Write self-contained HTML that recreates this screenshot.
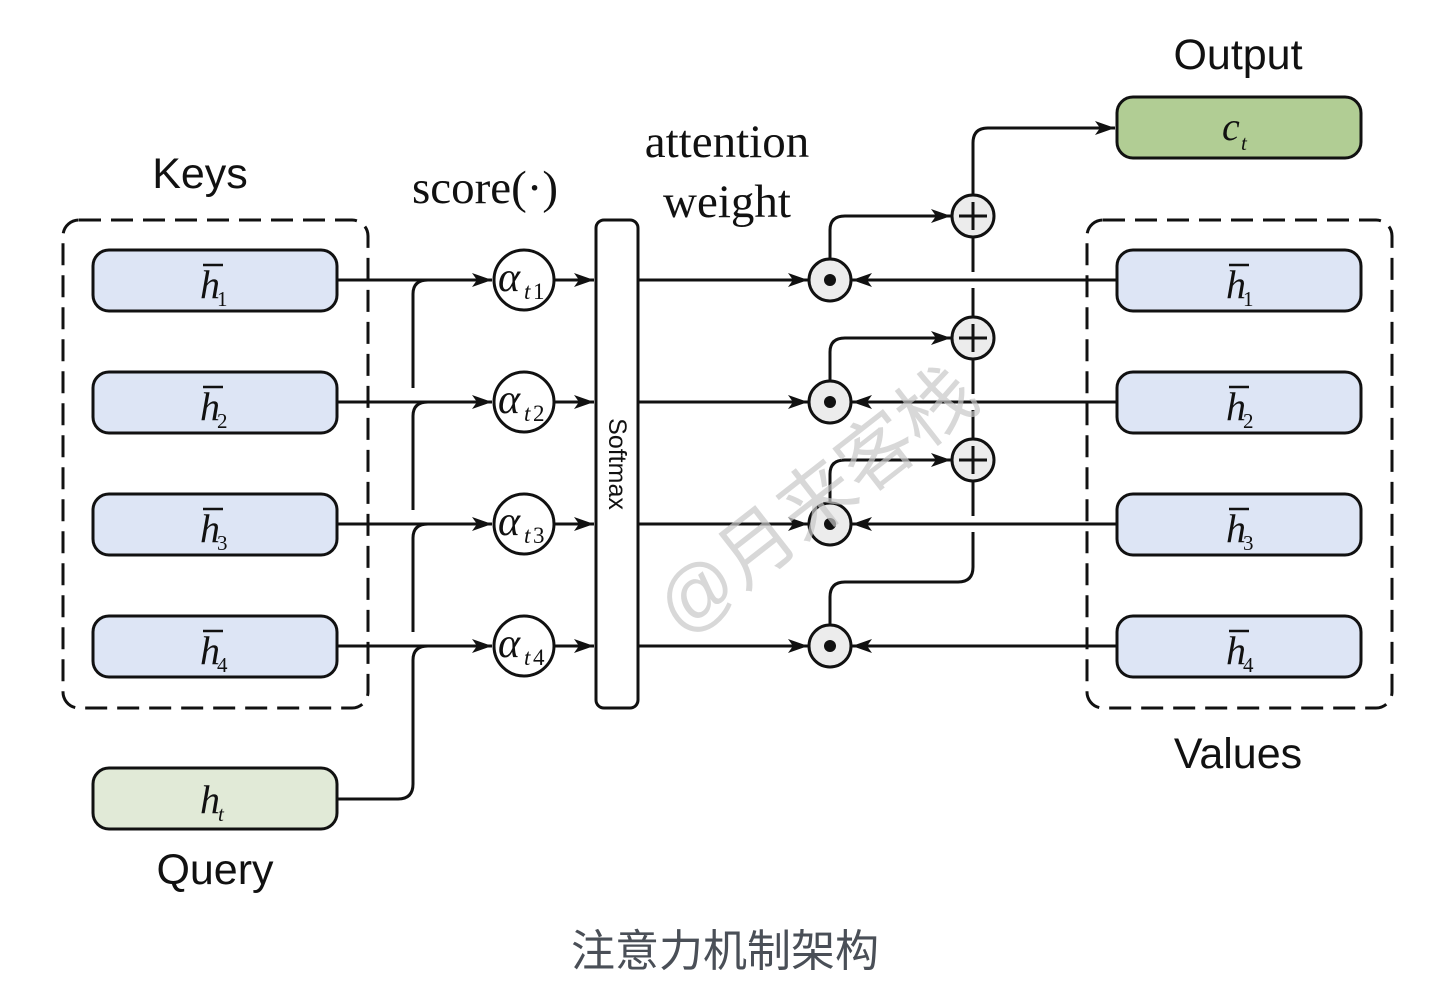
<!DOCTYPE html>
<html><head><meta charset="utf-8"><style>
html,body{margin:0;padding:0;background:#fff;}
svg{display:block;}
.s{font-family:"Liberation Sans",sans-serif;}
.r{font-family:"Liberation Serif",serif;}
</style></head><body>
<svg width="1436" height="1006" viewBox="0 0 1436 1006" xmlns="http://www.w3.org/2000/svg">
<defs>
<marker id="ar" viewBox="0 0 20 14" refX="20" refY="7" markerWidth="20" markerHeight="14" orient="auto" markerUnits="userSpaceOnUse">
<path d="M0,0 L20,7 L0,14 L5,7 Z" fill="#111"/>
</marker>
</defs>
<rect width="1436" height="1006" fill="#fff"/>
<g fill="none" stroke="#111" stroke-width="3">
<rect x="63" y="220" width="305" height="488" rx="16" stroke-dasharray="22,10"/>
<rect x="1087" y="220" width="305" height="488" rx="16" stroke-dasharray="22,10"/>
</g>
<g stroke="#111" stroke-width="3">
<rect x="93" y="250" width="244" height="61" rx="16" fill="#dde5f5"/>
<rect x="93" y="372" width="244" height="61" rx="16" fill="#dde5f5"/>
<rect x="93" y="494" width="244" height="61" rx="16" fill="#dde5f5"/>
<rect x="93" y="616" width="244" height="61" rx="16" fill="#dde5f5"/>
<rect x="1117" y="250" width="244" height="61" rx="16" fill="#dde5f5"/>
<rect x="1117" y="372" width="244" height="61" rx="16" fill="#dde5f5"/>
<rect x="1117" y="494" width="244" height="61" rx="16" fill="#dde5f5"/>
<rect x="1117" y="616" width="244" height="61" rx="16" fill="#dde5f5"/>
<rect x="93" y="768" width="244" height="61" rx="16" fill="#e1ead7"/>
<rect x="1117" y="97" width="244" height="61" rx="16" fill="#b1cd94"/>
<rect x="596" y="220" width="42" height="488" rx="8" fill="#fff"/>
</g>
<g fill="none" stroke="#111" stroke-width="3">
<path d="M337,280 H492" marker-end="url(#ar)"/>
<path d="M337,402 H492" marker-end="url(#ar)"/>
<path d="M337,524 H492" marker-end="url(#ar)"/>
<path d="M337,646 H492" marker-end="url(#ar)"/>
<path d="M413,388 V294 Q413,280 428,280"/>
<path d="M413,510 V416 Q413,402 428,402"/>
<path d="M413,632 V538 Q413,524 428,524"/>
<path d="M337,799 H398 Q413,799 413,784 V660 Q413,646 428,646"/>
<path d="M554,280 H594" marker-end="url(#ar)"/>
<path d="M554,402 H594" marker-end="url(#ar)"/>
<path d="M554,524 H594" marker-end="url(#ar)"/>
<path d="M554,646 H594" marker-end="url(#ar)"/>
<path d="M638,280 H808" marker-end="url(#ar)"/>
<path d="M638,402 H808" marker-end="url(#ar)"/>
<path d="M638,524 H808" marker-end="url(#ar)"/>
<path d="M638,646 H808" marker-end="url(#ar)"/>
<path d="M1117,280 H852" marker-end="url(#ar)"/>
<path d="M1117,402 H852" marker-end="url(#ar)"/>
<path d="M1117,524 H852" marker-end="url(#ar)"/>
<path d="M1117,646 H852" marker-end="url(#ar)"/>
<path d="M830,259 V230 Q830,216 845,216 H951" marker-end="url(#ar)"/>
<path d="M830,381 V352 Q830,338 845,338 H951" marker-end="url(#ar)"/>
<path d="M830,503 V474 Q830,460 845,460 H951" marker-end="url(#ar)"/>
<path d="M830,625 V597 Q830,582 845,582 H958 Q973,582 973,567 V532"/>
<path d="M973,237 V272 M973,288 V317 M973,359 V394 M973,410 V439 M973,481 V516"/>
<path d="M973,195 V143 Q973,128 988,128 H1115" marker-end="url(#ar)"/>
</g>
<g stroke="#111" stroke-width="3" fill="#fff">
<circle cx="524" cy="280" r="30"/><circle cx="524" cy="402" r="30"/>
<circle cx="524" cy="524" r="30"/><circle cx="524" cy="646" r="30"/>
</g>
<g stroke="#111" stroke-width="3" fill="#ececec">
<circle cx="830" cy="280" r="21"/><circle cx="830" cy="402" r="21"/>
<circle cx="830" cy="524" r="21"/><circle cx="830" cy="646" r="21"/>
<circle cx="973" cy="216" r="21"/><circle cx="973" cy="338" r="21"/><circle cx="973" cy="460" r="21"/>
</g>
<g fill="#111">
<circle cx="830" cy="280" r="6"/><circle cx="830" cy="402" r="6"/><circle cx="830" cy="524" r="6"/><circle cx="830" cy="646" r="6"/>
</g>
<g stroke="#111" stroke-width="3">
<path d="M959,216 H987 M973,202 V230"/>
<path d="M959,338 H987 M973,324 V352"/>
<path d="M959,460 H987 M973,446 V474"/>
</g>
<g class="r" font-style="italic" fill="#111">
<text x="200" y="298" font-size="40">h</text><text x="217" y="306" font-size="21" font-style="normal">1</text>
<text x="200" y="420" font-size="40">h</text><text x="217" y="428" font-size="21" font-style="normal">2</text>
<text x="200" y="542" font-size="40">h</text><text x="217" y="550" font-size="21" font-style="normal">3</text>
<text x="200" y="664" font-size="40">h</text><text x="217" y="672" font-size="21" font-style="normal">4</text>
<text x="1226" y="298" font-size="40">h</text><text x="1243" y="306" font-size="21" font-style="normal">1</text>
<text x="1226" y="420" font-size="40">h</text><text x="1243" y="428" font-size="21" font-style="normal">2</text>
<text x="1226" y="542" font-size="40">h</text><text x="1243" y="550" font-size="21" font-style="normal">3</text>
<text x="1226" y="664" font-size="40">h</text><text x="1243" y="672" font-size="21" font-style="normal">4</text>
<text x="200" y="813" font-size="40">h</text><text x="218" y="821" font-size="21">t</text>
<text x="1222" y="140" font-size="40">c</text><text x="1241" y="150" font-size="21">t</text>
<text x="498" y="291" font-size="42">α</text><text x="524" y="299" font-size="23">t</text><text x="533" y="299" font-size="23" font-style="normal">1</text>
<text x="498" y="413" font-size="42">α</text><text x="524" y="421" font-size="23">t</text><text x="533" y="421" font-size="23" font-style="normal">2</text>
<text x="498" y="535" font-size="42">α</text><text x="524" y="543" font-size="23">t</text><text x="533" y="543" font-size="23" font-style="normal">3</text>
<text x="498" y="657" font-size="42">α</text><text x="524" y="665" font-size="23">t</text><text x="533" y="665" font-size="23" font-style="normal">4</text>
</g>
<g stroke="#111" stroke-width="2.5">
<path d="M203,265 H223 M203,387 H223 M203,509 H223 M203,631 H223"/>
<path d="M1229,265 H1249 M1229,387 H1249 M1229,509 H1249 M1229,631 H1249"/>
</g>
<g class="s" fill="#111" font-size="43" text-anchor="middle">
<text x="200" y="188">Keys</text>
<text x="1238" y="69">Output</text>
<text x="1238" y="768">Values</text>
<text x="215" y="884">Query</text>
</g>
<g class="r" fill="#111" font-size="47" text-anchor="middle">
<text x="485" y="203">score(·)</text>
<text x="727" y="157">attention</text>
<text x="727" y="217">weight</text>
</g>
<text class="s" x="0" y="0" font-size="25" fill="#111" text-anchor="middle" transform="translate(609,464) rotate(90)">Softmax</text>
<text x="820" y="525" font-family="'Liberation Sans','Noto Sans CJK SC',sans-serif" font-size="76" fill="#c8c8c8" fill-opacity="0.7" text-anchor="middle" transform="rotate(-38 820 505)">@月来客栈</text>
<text x="725" y="966" font-family="'Liberation Sans','Noto Sans CJK SC',sans-serif" font-size="44" fill="#4a4f57" text-anchor="middle">注意力机制架构</text>
</svg>
</body></html>
